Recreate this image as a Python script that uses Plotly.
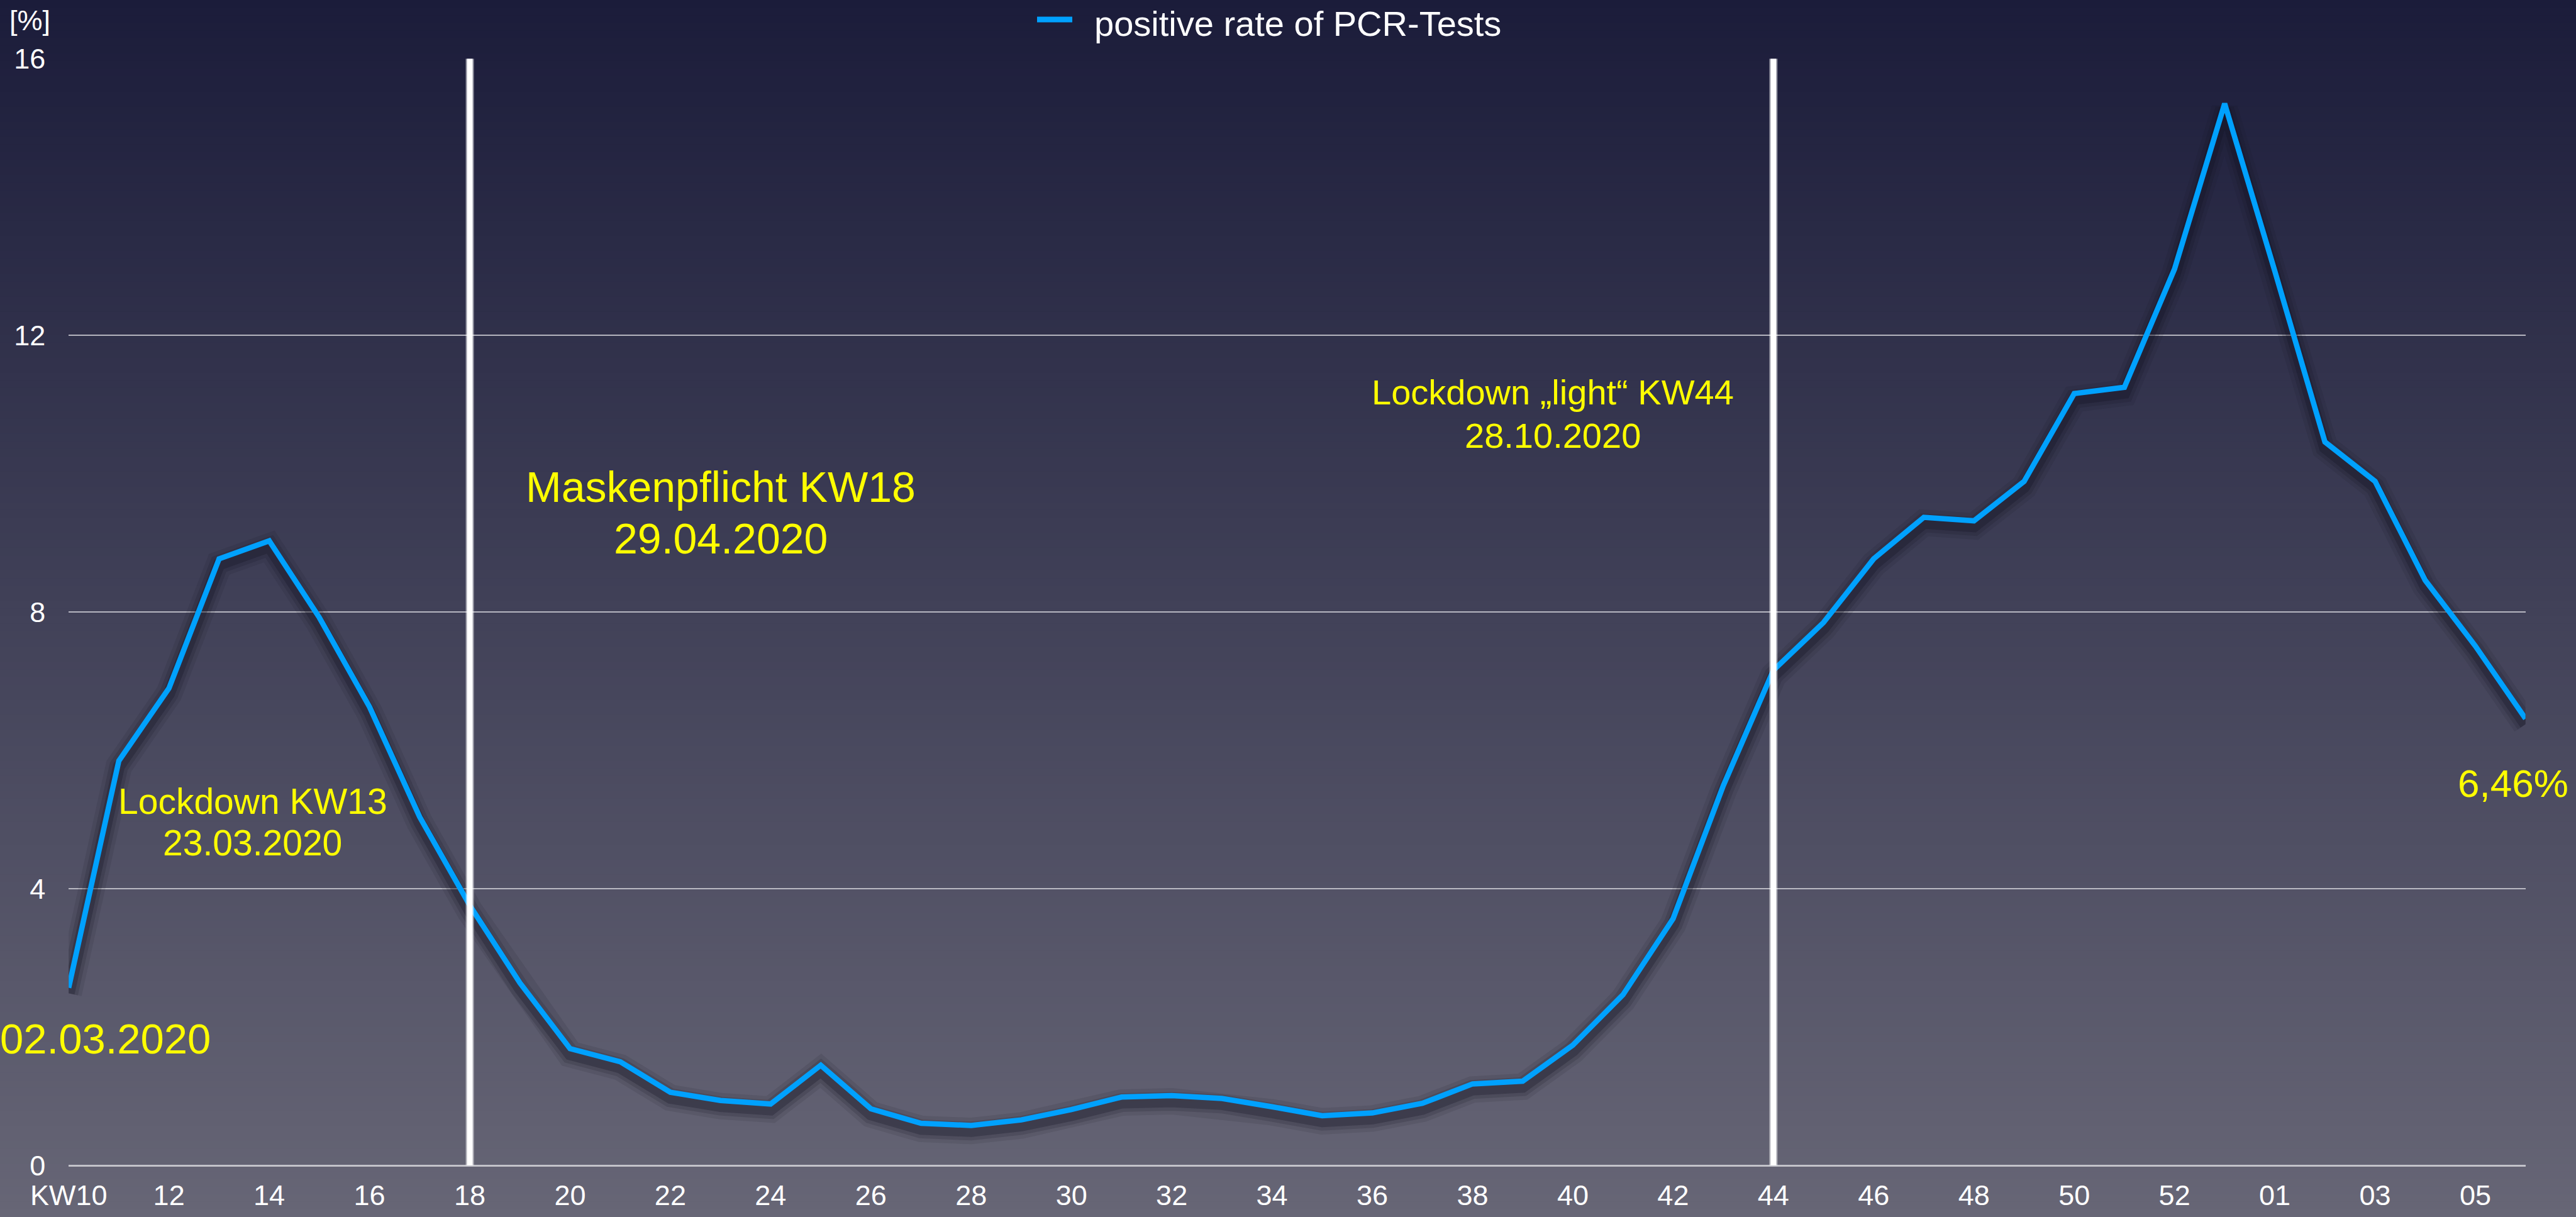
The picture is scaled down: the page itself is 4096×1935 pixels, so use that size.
import plotly.graph_objects as go

# ---- data ----
week_labels = ["10", "11", "12", "13", "14", "15", "16", "17", "18", "19",
               "20", "21", "22", "23", "24", "25", "26", "27", "28", "29",
               "30", "31", "32", "33", "34", "35", "36", "37", "38", "39",
               "40", "41", "42", "43", "44", "45", "46", "47", "48", "49",
               "50", "51", "52", "53", "01", "02", "03", "04", "05", "06"]
positive_rate = [2.57, 5.85, 6.90, 8.77, 9.03, 7.92, 6.63, 5.04, 3.76, 2.64,
                 1.69, 1.50, 1.06, 0.94, 0.89, 1.45, 0.82, 0.61, 0.58, 0.66,
                 0.81, 0.99, 1.01, 0.97, 0.85, 0.72, 0.76, 0.90, 1.18, 1.22,
                 1.74, 2.47, 3.57, 5.49, 7.16, 7.85, 8.77, 9.37, 9.32, 9.89,
                 11.16, 11.25, 12.96, 15.35, 12.93, 10.46, 9.89, 8.46, 7.51, 6.46]
tick_weeks = ["10", "12", "14", "16", "18", "20", "22", "24", "26", "28",
              "30", "32", "34", "36", "38", "40", "42", "44", "46", "48",
              "50", "52", "01", "03", "05"]
tick_text = ["KW10", "12", "14", "16", "18", "20", "22", "24", "26", "28",
             "30", "32", "34", "36", "38", "40", "42", "44", "46", "48",
             "50", "52", "01", "03", "05"]
y_ticks = [0, 4, 8, 12, 16]
measure_weeks = ["18", "44"]
series_name = "positive rate of PCR-Tests"

W, H = 4096, 1935
FONT = "Liberation Sans, Arial, Helvetica, sans-serif"
YELLOW = "#ffff00"
BLUE = "#00a1fe"

# plot area in pixels
px_left, px_right = 109.2, 4015.7
px_top, px_bottom = 93.3, 1853.2

idx = list(range(len(week_labels)))

fig = go.Figure()

# soft shadow under the line
for w, a in [(42, 0.10), (30, 0.16), (19, 0.26)]:
    fig.add_trace(go.Scatter(
        x=idx, y=[v - 0.08 for v in positive_rate], mode="lines",
        line=dict(color="rgba(16,16,32,%.2f)" % a, width=w),
        showlegend=False, hoverinfo="skip"))

fig.add_trace(go.Scatter(
    x=idx, y=positive_rate, mode="lines",
    name=series_name, showlegend=False,
    line=dict(color=BLUE, width=8.5)))


def px(xp, yp):
    return xp / W, 1 - yp / H


# gradient background (paper bands)
shapes = []
n = 160
top = (27, 28, 58)
bot = (103, 102, 118)
for i in range(n):
    f = (i + 0.5) / n
    c = tuple(round(top[k] + (bot[k] - top[k]) * f) for k in range(3))
    shapes.append(dict(type="rect", xref="paper", yref="paper",
                       x0=0, x1=1, y0=1 - (i + 1) / n - 0.001, y1=1 - i / n,
                       fillcolor="rgb(%d,%d,%d)" % c, line=dict(width=0),
                       layer="below"))

# chalk-like vertical markers
for wk in measure_weeks:
    xi = week_labels.index(wk)
    shapes.append(dict(type="line", xref="x", yref="y", x0=xi, x1=xi, y0=0, y1=16,
                       line=dict(color="rgba(255,255,255,0.5)", width=13), layer="above"))
    shapes.append(dict(type="line", xref="x", yref="y", x0=xi, x1=xi, y0=0, y1=16,
                       line=dict(color="white", width=9), layer="above"))

# legend swatch
lx0, ly = px(1649, 31)
lx1, _ = px(1705, 31)
shapes.append(dict(type="line", xref="paper", yref="paper", x0=lx0, x1=lx1, y0=ly, y1=ly,
                   line=dict(color=BLUE, width=9), layer="above"))

annotations = []


def add_text(text, xp, yp, size, color=YELLOW, xanchor="center"):
    x, y = px(xp, yp)
    annotations.append(dict(text=text, x=x, y=y, xref="paper", yref="paper",
                            xanchor=xanchor, yanchor="middle", showarrow=False,
                            font=dict(family=FONT, size=size, color=color)))


add_text(series_name, 1738, 37, 56, color="white", xanchor="left")
add_text("02.03.2020", -2, 1651, 67, xanchor="left")
add_text("Lockdown KW13", 401.7, 1273.5, 57)
add_text("23.03.2020", 401.7, 1340.3, 57)
add_text("Maskenpflicht KW18", 1145.6, 773.6, 68)
add_text("29.04.2020", 1145.6, 856.4, 68)
add_text("Lockdown \u201elight\u201c KW44", 2468.7, 623.8, 56)
add_text("28.10.2020", 2468.7, 692.3, 56)
add_text("6,46%", 3995.7, 1245.2, 62)
add_text("[%]", 47, 33, 45, color="white")

fig.update_layout(
    width=W, height=H,
    margin=dict(l=0, r=0, t=0, b=0),
    paper_bgcolor="rgb(27,28,58)",
    plot_bgcolor="rgba(0,0,0,0)",
    font=dict(family=FONT, color="white", size=45),
    shapes=shapes,
    annotations=annotations,
    showlegend=False,
    xaxis=dict(domain=[px_left / W, px_right / W],
               range=[0, len(week_labels) - 1], tickmode="array",
               tickvals=[week_labels.index(t) for t in tick_weeks], ticktext=tick_text,
               showgrid=False, zeroline=False, showline=False, ticks="",
               ticklabelstandoff=17,
               tickfont=dict(family=FONT, size=45, color="white"), automargin=False),
    yaxis=dict(domain=[1 - px_bottom / H, 1 - px_top / H], range=[0, 16],
               tickmode="array", tickvals=y_ticks, showgrid=True,
               gridcolor="rgba(205,205,212,0.85)", gridwidth=1.8,
               zeroline=True, zerolinecolor="rgba(205,205,212,0.9)", zerolinewidth=2.5,
               showline=False, ticks="", ticklabelstandoff=36,
               tickfont=dict(family=FONT, size=45, color="white"), automargin=False),
)

fig.write_html("out.html", config={"displayModeBar": False},
               post_script="document.body.style.margin='0';"
                           "document.body.style.overflow='hidden';")
